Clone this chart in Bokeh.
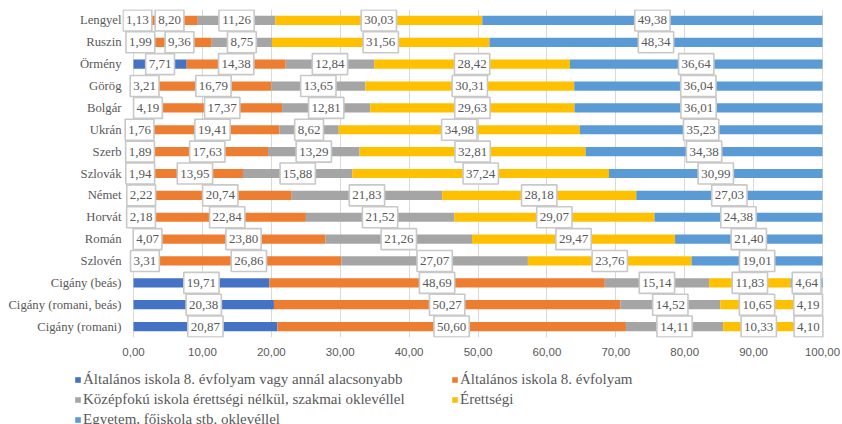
import numpy as np
from bokeh.plotting import figure
from bokeh.layouts import column
from bokeh.models import (ColumnDataSource, FactorRange, Range1d, FixedTicker,
                          Legend, LegendItem)
from bokeh.core.properties import value
from bokeh.embed import file_html
from bokeh.resources import INLINE

categories = ["Lengyel", "Ruszin", "Örmény", "Görög", "Bolgár", "Ukrán", "Szerb",
              "Szlovák", "Német", "Horvát", "Román", "Szlovén", "Cigány (beás)",
              "Cigány (romani, beás)", "Cigány (romani)"]

alt8_alatt = [1.13, 1.99, 7.71, 3.21, 4.19, 1.76, 1.89, 1.94, 2.22, 2.18, 4.07, 3.31, 19.71, 20.38, 20.87]
alt8 = [8.20, 9.36, 14.38, 16.79, 17.37, 19.41, 17.63, 13.95, 20.74, 22.84, 23.80, 26.86, 48.69, 50.27, 50.60]
kozep = [11.26, 8.75, 12.84, 13.65, 12.81, 8.62, 13.29, 15.88, 21.83, 21.52, 21.26, 27.07, 15.14, 14.52, 14.11]
erett = [30.03, 31.56, 28.42, 30.31, 29.63, 34.98, 32.81, 37.24, 28.18, 29.07, 29.47, 23.76, 11.83, 10.65, 10.33]
egyetem = [49.38, 48.34, 36.64, 36.04, 36.01, 35.23, 34.38, 30.99, 27.03, 24.38, 21.40, 19.01, 4.64, 4.19, 4.10]

series_names = ["Általános iskola 8. évfolyam vagy annál alacsonyabb",
                "Általános iskola 8. évfolyam",
                "Középfokú iskola érettségi nélkül, szakmai oklevéllel",
                "Érettségi",
                "Egyetem, főiskola stb. oklevéllel"]

x_ticks = [0, 10, 20, 30, 40, 50, 60, 70, 80, 90, 100]
x_tick_labels = ["0,00", "10,00", "20,00", "30,00", "40,00", "50,00",
                 "60,00", "70,00", "80,00", "90,00", "100,00"]

colors = ["#4472C4", "#ED7D31", "#A5A5A5", "#FFC000", "#5B9BD5"]
keys = ["s0", "s1", "s2", "s3", "s4"]
series = [alt8_alatt, alt8, kozep, erett, egyetem]

data = {"cat": categories}
for k, s in zip(keys, series):
    data[k] = s
source = ColumnDataSource(data)

TXT = "#595959"
SERIF = "'Liberation Serif', 'Times New Roman', serif"

# ---------------- main chart ----------------
p = figure(width=842, height=366, output_backend="svg", toolbar_location=None,
           y_range=FactorRange(*list(reversed(categories))),
           x_range=Range1d(-1.6, 101.74))
p.min_border_left = 122
p.min_border_right = 8
p.min_border_top = 9
p.min_border_bottom = 29
p.outline_line_color = None
p.background_fill_color = "white"
p.border_fill_color = "white"

renderers = p.hbar_stack(keys, y="cat", height=0.42, color=colors, line_color=None,
                         source=source)

# data labels
mids, ys, texts, widths = [], [], [], []
arr = np.array(series)  # shape (5, n)
cum = np.cumsum(arr, axis=0)
for j, cat in enumerate(categories):
    for i in range(len(series)):
        v = arr[i, j]
        start = cum[i, j] - v
        mids.append(start + v / 2.0)
        ys.append(cat)
        t = f"{v:.2f}".replace(".", ",")
        texts.append(t)
        w = sum(3.3 if ch == "," else 6.5 for ch in t) + 6
        widths.append(w)
lsrc = ColumnDataSource(dict(x=mids, y=ys, text=texts, w=widths))
p.rect(x="x", y="y", width="w", height=21, width_units="screen", height_units="screen",
       fill_color="white", line_color="#C8C8C8", line_width=1.6, source=lsrc)
p.text(x="x", y="y", text="text", text_align="center", text_baseline="middle",
       text_font=value(SERIF), text_font_size="13px", text_color=TXT, source=lsrc)

# axes
p.xaxis.ticker = FixedTicker(ticks=x_ticks)
p.xaxis.major_label_overrides = {t: l for t, l in zip(x_ticks, x_tick_labels)}
p.xaxis.axis_line_color = None
p.xaxis.major_tick_line_color = None
p.xaxis.minor_tick_line_color = None
p.xaxis.major_tick_out = 0
p.xaxis.major_tick_in = 0
p.xaxis.major_label_standoff = 10
p.xaxis.major_label_text_font = "Liberation Sans"
p.xaxis.major_label_text_font_size = "11.5px"
p.xaxis.major_label_text_color = TXT

p.yaxis.axis_line_color = None
p.yaxis.major_tick_line_color = None
p.yaxis.minor_tick_line_color = None
p.yaxis.major_tick_out = 0
p.yaxis.major_tick_in = 0
p.yaxis.major_label_standoff = 1
p.yaxis.major_label_text_font = SERIF
p.yaxis.major_label_text_font_size = "12.7px"
p.yaxis.major_label_text_color = TXT

p.xgrid.grid_line_color = "#D9D9D9"
p.xgrid.grid_line_width = 1
p.ygrid.grid_line_color = None

# ---------------- legend strip ----------------
lp = figure(width=842, height=58, output_backend="svg", toolbar_location=None,
            x_axis_location=None, y_axis_location=None,
            x_range=Range1d(0, 1), y_range=Range1d(0, 1))
lp.min_border = 0
lp.min_border_left = 0
lp.min_border_right = 0
lp.min_border_top = 0
lp.min_border_bottom = 0
lp.outline_line_color = None
lp.grid.visible = False
lp.background_fill_color = "white"
lp.border_fill_color = "white"

aligned = True
if "frame_align" in lp.properties():
    lp.frame_align = False
    p.frame_align = False
    aligned = False
frame_left = 122 if aligned else 0

# proxy glyphs (placed outside the visible range) that only feed the legend
proxies = [lp.rect(x=[5], y=[5], width=1, height=1, fill_color=c, line_color=None)
           for c in colors]


def make_legend(idxs, loc):
    items = [LegendItem(label=series_names[i], renderers=[proxies[i]]) for i in idxs]
    lg = Legend(items=items, location=loc, orientation="vertical")
    lg.padding = 0
    lg.margin = 0
    lg.spacing = 0
    lg.border_line_color = None
    lg.background_fill_alpha = 0
    lg.glyph_width = 7
    lg.glyph_height = 7
    lg.label_standoff = 2
    lg.label_height = 20
    lg.label_text_font = SERIF
    lg.label_text_font_size = "15px"
    lg.label_text_color = TXT
    lg.label_text_baseline = "middle"
    return lg


lp.add_layout(make_legend([0, 2, 4], (74 - frame_left, -5)), "center")
lp.add_layout(make_legend([1, 3], (451 - frame_left, 15)), "center")

layout = column(p, lp, spacing=0)
open("out.html", "w").write(file_html(layout, INLINE))
